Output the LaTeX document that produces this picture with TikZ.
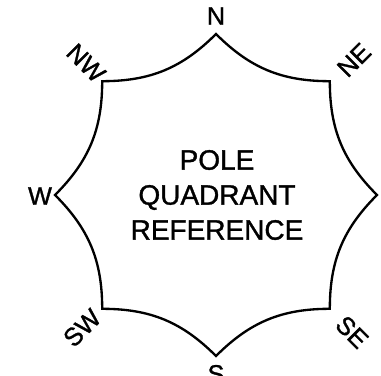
\documentclass[tikz,border=0pt]{standalone}
\usepackage{fontspec}
\setmainfont{Liberation Sans}[BoldFont=Liberation Sans,BoldFeatures={FakeBold=1.2}]
\begin{document}
\begin{tikzpicture}[x=0.75pt,y=0.75pt,
  dirlabel/.style={inner sep=0pt,font=\fontsize{19}{22}\selectfont\bfseries},
  title/.style={inner sep=0pt,align=center,font=\fontsize{21}{26.25}\selectfont\bfseries}]
\useasboundingbox (0,0) rectangle (381,375);
\coordinate (N) at (216,341);
\coordinate (NE) at (329.8,293.8);
\coordinate (E) at (377,180);
\coordinate (SE) at (329.8,66.2);
\coordinate (S) at (216,19);
\coordinate (SW) at (102.2,66.2);
\coordinate (W) at (55,180);
\coordinate (NW) at (102.2,293.8);
\draw[line width=1.75pt, line join=miter]
  (N) to[bend right=22.5] (NE) to[bend right=22.5] (E) to[bend right=22.5] (SE)
  to[bend right=22.5] (S) to[bend right=22.5] (SW) to[bend right=22.5] (W)
  to[bend right=22.5] (NW) to[bend right=22.5] (N) -- cycle;
\node[dirlabel] (lN) at (216,359) {N};
\node[dirlabel] (lW) at (40,179) {W};
\node[dirlabel,rotate=-45] (lNW) at (86,312) {NW};
\node[dirlabel,rotate=45] (lNE) at (354,315) {NE};
\node[dirlabel,rotate=45] (lSW) at (82,47) {SW};
\node[dirlabel,rotate=-45] (lSE) at (352,43) {SE};
\node[dirlabel] (lS) at (216,1) {S};
\node[title] (t) at (217,180) {POLE\\QUADRANT\\REFERENCE};
\end{tikzpicture}
\end{document}
